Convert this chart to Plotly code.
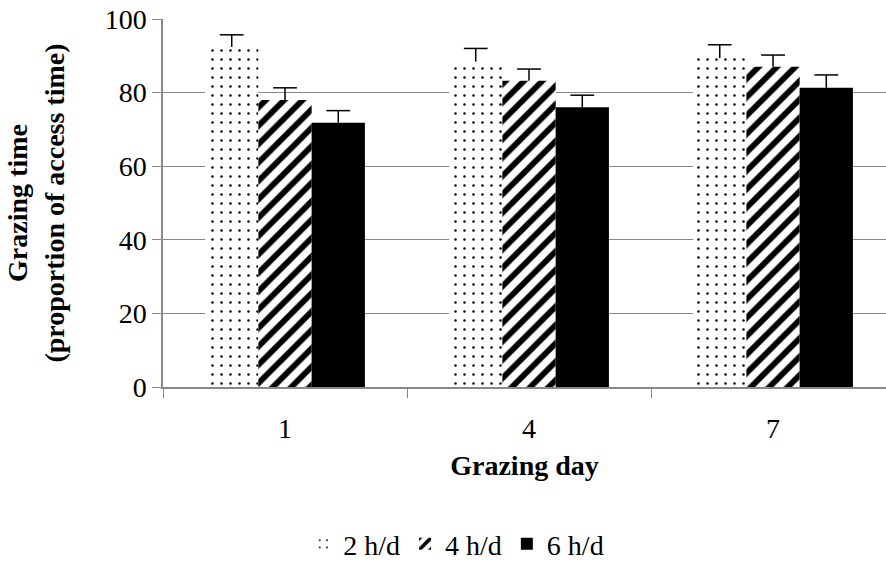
import plotly.graph_objects as go

days = ["1", "4", "7"]
series_names = ["2 h/d", "4 h/d", "6 h/d"]
values = {
    "2 h/d": [92.4, 88.4, 89.4],
    "4 h/d": [78.0, 83.2, 87.0],
    "6 h/d": [71.8, 76.0, 81.3],
}
errors = {
    "2 h/d": [3.3, 3.6, 3.6],
    "4 h/d": [3.3, 3.2, 3.2],
    "6 h/d": [3.3, 3.3, 3.5],
}
y_ticks = [0, 20, 40, 60, 80, 100]

patterns = {
    "2 h/d": dict(shape=".", fgcolor="black", bgcolor="white", size=9, solidity=0.06,
                  fillmode="overlay", fgopacity=1),
    "4 h/d": dict(shape="/", fgcolor="black", bgcolor="white", size=13, solidity=0.45,
                  fillmode="overlay", fgopacity=1),
    "6 h/d": dict(shape=""),
}
fills = {"2 h/d": "white", "4 h/d": "white", "6 h/d": "black"}

FONT = "Liberation Serif, Times New Roman, serif"
FS = 28
GAP = 0.345

fig = go.Figure()
for i, name in enumerate(series_names):
    fig.add_trace(go.Bar(
        x=days, y=values[name], name=name, offsetgroup=str(i),
        marker=dict(color=fills[name], line=dict(width=0), pattern=patterns[name]),
    ))
# upper-only error bars: a cap marker at the top, with a stem down to the bar top
for i, name in enumerate(series_names):
    tops = [v + e for v, e in zip(values[name], errors[name])]
    fig.add_trace(go.Scatter(
        x=days, y=tops, mode="markers", offsetgroup=str(i), showlegend=False,
        hoverinfo="skip",
        marker=dict(symbol="line-ew", size=17, color="black",
                    line=dict(color="black", width=1.5)),
        error_y=dict(type="data", symmetric=False, array=[0] * len(days),
                     arrayminus=errors[name], color="black", thickness=1.5, width=0),
    ))

fig.update_layout(
    width=886, height=561,
    margin=dict(l=163, r=0, t=19, b=174),
    paper_bgcolor="white", plot_bgcolor="white",
    barmode="group", bargap=GAP, bargroupgap=0,
    scattermode="group", scattergap=GAP,
    font=dict(family=FONT, size=FS, color="black"),
    showlegend=True,
    legend=dict(orientation="h", xref="container", x=0.515, xanchor="center",
                yref="container", y=0.03, yanchor="middle",
                font=dict(size=FS, family=FONT), traceorder="normal"),
    xaxis=dict(
        type="category", range=[-0.5, 2.463],
        showline=True, linecolor="#888888", linewidth=1.5,
        ticks="outside", tickson="boundaries", ticklen=9, tickcolor="#888888",
        ticklabelstandoff=16,
        tickfont=dict(size=FS, family=FONT),
        title=dict(text="<b>Grazing day</b>", font=dict(size=FS, family=FONT), standoff=12),
        showgrid=False,
    ),
    yaxis=dict(
        range=[0, 100], tickvals=y_ticks,
        showline=True, linecolor="#888888", linewidth=1.5,
        ticks="outside", ticklen=9, tickcolor="#888888",
        showgrid=True, gridcolor="#888888", gridwidth=1.2,
        zeroline=False,
        tickfont=dict(size=FS, family=FONT),
        title=dict(text="<b>Grazing time<br>(proportion of access time)</b>",
                   font=dict(size=FS, family=FONT), standoff=32),
    ),
)

fig.write_html("out.html")
